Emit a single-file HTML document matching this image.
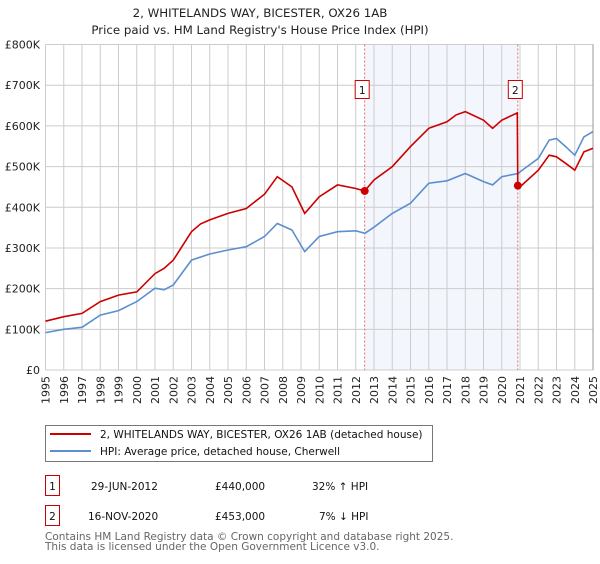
<!DOCTYPE html>
<html><head><meta charset="utf-8"><style>
body{margin:0;background:#fff;width:600px;height:560px;overflow:hidden;font-family:"DejaVu Sans","Liberation Sans",sans-serif;}
svg text{font-family:"DejaVu Sans","Liberation Sans",sans-serif;}
</style></head><body>
<svg id="chart" width="600" height="560" xmlns="http://www.w3.org/2000/svg">
<text x="260" y="17" text-anchor="middle" font-size="11.8" fill="#222">2, WHITELANDS WAY, BICESTER, OX26 1AB</text>
<text x="260" y="34" text-anchor="middle" font-size="11.8" fill="#222">Price paid vs. HM Land Registry's House Price Index (HPI)</text>
<g id="plot"></g>
<g>
<rect x="45.5" y="425.5" width="387" height="36" fill="#fff" stroke="#777"/>
<line x1="50" y1="434" x2="91" y2="434" stroke="#cc0000" stroke-width="2"/>
<text x="100" y="438" font-size="10.5" fill="#111">2, WHITELANDS WAY, BICESTER, OX26 1AB (detached house)</text>
<line x1="50" y1="451" x2="91" y2="451" stroke="#5b8fd0" stroke-width="2"/>
<text x="100" y="455" font-size="10.5" fill="#111">HPI: Average price, detached house, Cherwell</text>
</g>
<g font-size="10.5" fill="#111">
<rect x="45.5" y="475.5" width="14" height="20" fill="#fff" stroke="#cc0000"/>
<text x="52.5" y="490" text-anchor="middle">1</text>
<text x="91" y="490">29-JUN-2012</text>
<text x="215" y="490">£440,000</text>
<text x="312" y="490">32% ↑ HPI</text>
<rect x="45.5" y="505.5" width="14" height="20" fill="#fff" stroke="#cc0000"/>
<text x="52.5" y="520" text-anchor="middle">2</text>
<text x="88" y="520">16-NOV-2020</text>
<text x="215" y="520">£453,000</text>
<text x="319" y="520">7% ↓ HPI</text>
</g>
<text x="45" y="540" font-size="10.5" fill="#666">Contains HM Land Registry data © Crown copyright and database right 2025.</text>
<text x="45" y="550" font-size="10.5" fill="#666">This data is licensed under the Open Government Licence v3.0.</text>
</svg>
<script>
const hpiYears=[1995,1996,1997,1998,1999,2000,2001,2001.5,2002,2003,2004,2005,2006,2007,2007.7,2008.5,2009.2,2010,2011,2012,2012.5,2013,2014,2015,2016,2017,2018,2019,2019.5,2020,2020.9,2021,2022,2022.6,2023,2023.5,2024,2024.5,2025];
const hpiValues=[92,100,105,135,146,168,201,197,209,270,285,295,303,328,360,344,291,328,340,342,336,351,385,410,459,465,483,463,455,475,483,487,520,565,569,549,528,573,586];
const propYears=[1995,1996,1997,1998,1999,2000,2001,2001.5,2002,2003,2003.5,2004,2005,2006,2007,2007.7,2008.5,2009.2,2010,2011,2012,2012.49,2013,2014,2015,2016,2017,2017.5,2018,2019,2019.5,2020,2020.85,2020.88,2021,2022,2022.6,2023,2023.5,2024,2024.5,2025];
const propValues=[120,131,139,168,184,192,237,250,270,340,359,369,385,397,432,475,450,385,426,455,446,440,467,500,549,594,610,627,635,614,594,614,632,453,450,491,528,524,508,491,536,545];
const saleYears=[2012.49,2020.88];
const saleValues=[440,453];
const saleLabels=["1","2"];
const yTicks=[0,100,200,300,400,500,600,700,800];
const yTickLabels=["£0","£100K","£200K","£300K","£400K","£500K","£600K","£700K","£800K"];
const xTicks=[1995,1996,1997,1998,1999,2000,2001,2002,2003,2004,2005,2006,2007,2008,2009,2010,2011,2012,2013,2014,2015,2016,2017,2018,2019,2020,2021,2022,2023,2024,2025];

const X0=45.5,X1=593,Y0=370,Y1=44.5;
const xs=y=>X0+(y-1995)/30*(X1-X0);
const ys=v=>Y0-v/800*(Y0-Y1);
const NS="http://www.w3.org/2000/svg";
const g=document.getElementById('plot');
function mk(tag,attrs,parent){const e=document.createElementNS(NS,tag);for(const k in attrs)e.setAttribute(k,attrs[k]);(parent||g).appendChild(e);return e;}

const shade=mk('rect',{x:xs(saleYears[0]),y:Y1,width:xs(saleYears[1])-xs(saleYears[0]),height:Y0-Y1,fill:'#f3f6fd'});


yTicks.forEach((t,i)=>{
 const l=mk('line',{x1:X0,x2:X1,y1:ys(t),y2:ys(t),stroke:'#ccc','stroke-width':1});
 
 
 const tx=mk('text',{x:40,y:ys(t)+4,'text-anchor':'end','font-size':11,fill:'#222'});
 tx.textContent=yTickLabels[i];
 
 
});
xTicks.forEach(t=>{
 const l=mk('line',{x1:xs(t),x2:xs(t),y1:Y1,y2:Y0,stroke:'#ccc','stroke-width':1});
 
 
 const tx=mk('text',{x:0,y:0,'text-anchor':'end','font-size':11,fill:'#222',transform:`translate(${xs(t)+4},376) rotate(-90)`});
 tx.textContent=t;
 
 
});
const rb=mk('line',{x1:X1,x2:X1,y1:Y1,y2:Y0,stroke:'#999','stroke-width':1});


saleYears.forEach((yr,i)=>{
 const l=mk('line',{x1:xs(yr),x2:xs(yr),y1:Y1,y2:Y0,stroke:'#ee6666','stroke-width':1,'stroke-dasharray':'2,2'});
 
 
});
function pathD(xa,va){return xa.map((x,i)=>(i?'L':'M')+xs(x).toFixed(1)+','+ys(va[i]).toFixed(1)).join('');}
const hp=mk('path',{d:pathD(hpiYears,hpiValues),fill:'none',stroke:'#5b8fd0','stroke-width':1.6});


const pp=mk('path',{d:pathD(propYears,propValues),fill:'none',stroke:'#cc0000','stroke-width':1.6});


saleYears.forEach((yr,i)=>{
 const c=mk('circle',{cx:xs(yr),cy:ys(saleValues[i]),r:4,fill:'#cc0000'});
 
 
 const bx=xs(yr)-7.5;
 const r=mk('rect',{x:bx-2,y:80.5,width:14,height:18,fill:'#fff',stroke:'#cc0000'});
 
 
 const t=mk('text',{x:bx+5,y:94,'text-anchor':'middle','font-size':10.5,fill:'#111'});
 t.textContent=saleLabels[i];
 
 
});
</script>
</body></html>
